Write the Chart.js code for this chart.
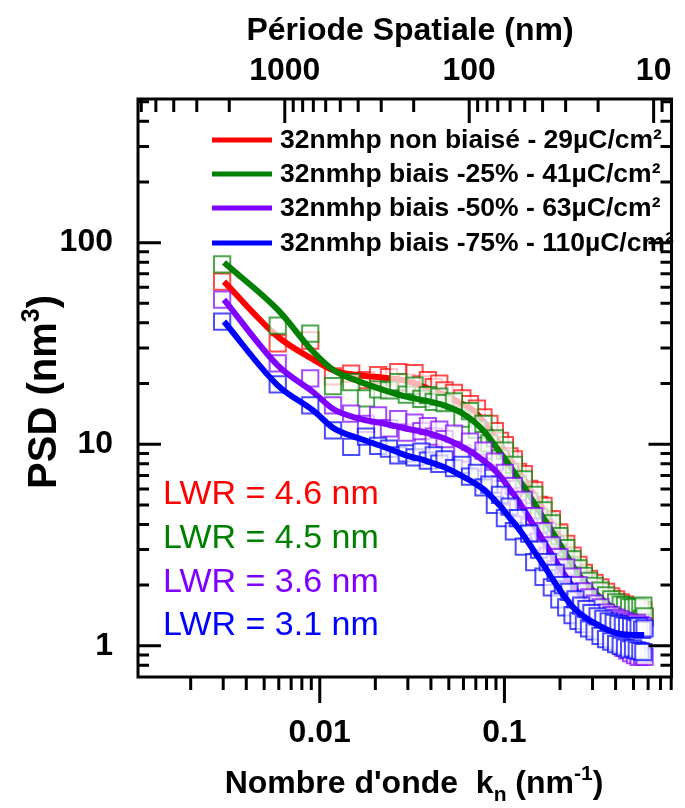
<!DOCTYPE html>
<html>
<head>
<meta charset="utf-8">
<title>PSD</title>
<script src="https://cdn.jsdelivr.net/npm/chart.js@4.4.1/dist/chart.umd.min.js"></script>
<style>
  html, body { margin: 0; padding: 0; background: #fff; }
  #wrap { width: 685px; height: 808px; }
</style>
</head>
<body>
<div id="wrap"><canvas id="psdChart" width="685" height="808"></canvas></div>
<script>
// wave numbers of the measured points (nm^-1)
const kValues = [
  0.00296, 0.00592, 0.00888, 0.0118, 0.0148, 0.0178, 0.0207, 0.0237, 0.0266, 0.0296,
  0.0326, 0.0355, 0.0385, 0.0414, 0.0444, 0.0474, 0.0533, 0.0592, 0.0651, 0.0710,
  0.0770, 0.0829, 0.0888, 0.0947, 0.1006, 0.1066, 0.1125, 0.1184, 0.1273, 0.1362,
  0.1450, 0.1539, 0.1628, 0.1717, 0.1806, 0.1894, 0.1983, 0.2072, 0.2161, 0.2250,
  0.2338, 0.2427, 0.2516, 0.2605, 0.2694, 0.2782, 0.2871, 0.2960, 0.3078, 0.3197,
  0.3315, 0.3434, 0.3552, 0.3670, 0.3789, 0.3907, 0.4026, 0.4144, 0.4262, 0.4381,
  0.4499, 0.4618, 0.4736, 0.4854, 0.4973, 0.5091, 0.5210, 0.5328, 0.5446, 0.5565,
  0.5654, 0.5742
];

// measured PSD (nm^3)
const psdNonBiaise = [
  64, 31.6, 32.7, 21.7, 22.4, 20.8, 22.0, 21.5, 22.8, 20.2,
  22.5, 19.8, 20.8, 19.2, 20.0, 18.5, 18.0, 16.9, 15.8, 15.0,
  13.6, 12.6, 11.6, 10.4, 9.9, 8.7, 8.4, 7.3, 7.1, 6.0,
  5.9, 5.0, 4.95, 4.2, 4.25, 3.6, 3.65, 3.1, 3.2, 2.7,
  2.8, 2.42, 2.52, 2.2, 2.3, 2.05, 2.15, 1.92, 2.05, 1.8,
  1.95, 1.7, 1.85, 1.62, 1.76, 1.56, 1.7, 1.5, 1.64, 1.46,
  1.6, 1.42, 1.56, 1.4, 1.54, 1.38, 1.52, 1.37, 1.5, 1.36,
  1.5, 1.38
];
const psdBiais25 = [
  78, 38.8, 35.4, 19.4, 20.3, 16.9, 18.7, 18.5, 20.3, 17.6,
  19.5, 16.8, 17.5, 16.2, 17.2, 16.0, 16.3, 13.4, 14.6, 11.8,
  12.6, 10.1, 10.7, 8.5, 9.3, 7.3, 7.9, 6.3, 6.7, 5.2,
  5.6, 4.35, 4.7, 3.7, 4.05, 3.2, 3.5, 2.8, 3.05, 2.5,
  2.68, 2.22, 2.42, 2.05, 2.22, 1.9, 2.1, 1.8, 1.98, 1.7,
  1.88, 1.6, 1.78, 1.52, 1.7, 1.47, 1.64, 1.42, 1.6, 1.4,
  1.58, 1.37, 1.55, 1.35, 1.55, 1.34, 1.56, 1.33, 1.55, 1.36,
  1.58, 1.4
];
const psdBiais50 = [
  52.2, 25.2, 21.2, 15.6, 14.2, 12.6, 13.9, 12.0, 13.3, 11.4,
  12.8, 11.6, 12.3, 10.9, 11.8, 10.6, 11.3, 9.0, 10.3, 8.1,
  9.3, 7.2, 8.2, 6.3, 7.2, 5.5, 6.2, 4.8, 5.3, 3.9,
  4.4, 3.3, 3.7, 2.8, 3.15, 2.4, 2.75, 2.1, 2.45, 1.9,
  2.2, 1.72, 2.0, 1.6, 1.86, 1.48, 1.74, 1.4, 1.62, 1.3,
  1.55, 1.22, 1.46, 1.15, 1.42, 1.08, 1.38, 1.03, 1.35, 0.98,
  1.32, 0.95, 1.3, 0.92, 1.28, 0.9, 1.3, 0.88, 1.27, 0.9,
  1.25, 0.88
];
const psdBiais75 = [
  40.6, 19.8, 15.6, 11.7, 9.7, 10.9, 9.8, 9.5, 8.8, 9.0,
  8.6, 9.2, 8.3, 8.8, 8.0, 8.4, 7.6, 7.9, 6.9, 7.2,
  6.1, 6.3, 5.0, 5.6, 4.3, 4.9, 3.7, 4.3, 3.1, 3.6,
  2.6, 3.0, 2.2, 2.6, 1.95, 2.3, 1.7, 2.0, 1.55, 1.85,
  1.42, 1.7, 1.33, 1.58, 1.28, 1.52, 1.22, 1.45, 1.18, 1.40,
  1.12, 1.36, 1.08, 1.32, 1.05, 1.30, 1.02, 1.28, 1.0, 1.26,
  0.98, 1.25, 0.96, 1.24, 0.97, 1.22, 0.95, 1.25, 0.94, 1.2,
  0.93, 1.22
];

// fitted curves, read at these wave numbers
const fitK = [
  0.00303, 0.00592, 0.0093, 0.0119, 0.0163, 0.0229, 0.0288, 0.038, 0.047, 0.058,
  0.068, 0.0775, 0.0865, 0.0965, 0.106, 0.117, 0.129, 0.143, 0.159, 0.176,
  0.195, 0.215, 0.2375, 0.263, 0.292, 0.325, 0.36, 0.40, 0.437, 0.50, 0.571
];
const fitNonBiaise = [
  64, 34.2, 26.2, 23.2, 22.0, 21.3, 20.7, 19.0, 17.6, 16.0,
  14.7, 12.9, 11.2, 9.8, 8.6, 7.5, 6.6, 5.7, 4.9, 4.2,
  3.6, 3.05, 2.6, 2.3, 2.05, 1.86, 1.72, 1.6, 1.52, 1.44, 1.38
];
const fitBiais25 = [
  79.6, 46.5, 28.5, 23.3, 20.5, 18.4, 17.3, 16.4, 15.6, 14.4,
  13.0, 11.6, 10.2, 8.9, 7.9, 6.9, 6.05, 5.2, 4.45, 3.85,
  3.31, 2.85, 2.45, 2.15, 1.94, 1.76, 1.62, 1.52, 1.46, 1.40, 1.36
];
const fitBiais50 = [
  52.2, 24.6, 18.0, 14.9, 13.4, 12.6, 12.0, 11.4, 10.7, 9.8,
  9.0, 8.25, 7.6, 6.8, 6.05, 5.35, 4.66, 4.0, 3.43, 2.95,
  2.52, 2.2, 1.94, 1.72, 1.54, 1.4, 1.3, 1.24, 1.2, 1.17, 1.15
];
const fitBiais75 = [
  40.6, 19.6, 14.6, 12.0, 10.7, 9.6, 8.85, 8.25, 7.7, 7.0,
  6.45, 5.95, 5.4, 4.85, 4.35, 3.9, 3.45, 3.0, 2.6, 2.25,
  1.95, 1.72, 1.54, 1.42, 1.33, 1.26, 1.2, 1.16, 1.14, 1.13, 1.13
];

const seriesLabels = [
  '32nmhp non biaisé - 29µC/cm²',
  '32nmhp biais -25% - 41µC/cm²',
  '32nmhp biais -50% - 63µC/cm²',
  '32nmhp biais -75% - 110µC/cm²'
];
const lwrLabels = ['LWR = 4.6 nm', 'LWR = 4.5 nm', 'LWR = 3.6 nm', 'LWR = 3.1 nm'];
const seriesColors = ['rgb(255,0,0)', 'rgb(0,128,0)', 'rgb(128,0,255)', 'rgb(0,0,255)'];

// axes
const kRange = [0.001037, 0.803];
const periodRange = [8.0, 6250];
const psdRange = [0.718, 516];
const kMajorTicks = [0.01, 0.1];
const periodMajorTicks = [1000, 100, 10];
const psdMajorTicks = [1, 10, 100];
const minorSteps = [2, 3, 4, 5, 6, 7, 8, 9];

const FONT = "'Liberation Sans', Arial, Helvetica, sans-serif";
const tickFont = { family: FONT, size: 32, weight: 'bold' };

function withAlpha(rgb, a) {
  return rgb.replace('rgb(', 'rgba(').replace(')', ',' + a + ')');
}

function minorValues(min, max) {
  const out = [];
  for (let e = Math.floor(Math.log10(min)); e <= Math.ceil(Math.log10(max)); e++) {
    minorSteps.forEach(m => {
      const v = m * Math.pow(10, e);
      if (v >= min && v <= max) out.push(v);
    });
  }
  return out;
}

function drawRich(ctx, parts, x, y, align) {
  let total = 0;
  parts.forEach(p => {
    ctx.font = 'bold ' + p.size + 'px ' + FONT;
    p.w = ctx.measureText(p.text).width;
    total += p.w;
  });
  let cx = align === 'center' ? x - total / 2 : x;
  ctx.textAlign = 'left';
  ctx.textBaseline = 'alphabetic';
  parts.forEach(p => {
    ctx.font = 'bold ' + p.size + 'px ' + FONT;
    ctx.fillText(p.text, cx, y + (p.dy || 0));
    cx += p.w;
  });
}

const framePlugin = {
  id: 'framePlugin',
  afterDraw(chart) {
    const { ctx, chartArea: a, scales } = chart;
    const xs = scales.x, xt = scales.xTop, ys = scales.y;
    ctx.save();
    ctx.strokeStyle = '#000';
    ctx.fillStyle = '#000';
    ctx.lineWidth = 3;
    ctx.strokeRect(a.left, a.top, a.right - a.left, a.bottom - a.top);

    ctx.beginPath();
    // bottom axis, ticks outside
    kMajorTicks.forEach(v => { const p = xs.getPixelForValue(v); ctx.moveTo(p, a.bottom); ctx.lineTo(p, a.bottom + 26); });
    minorValues(kRange[0], kRange[1]).forEach(v => { const p = xs.getPixelForValue(v); ctx.moveTo(p, a.bottom); ctx.lineTo(p, a.bottom + 13); });
    // top axis, ticks inside
    periodMajorTicks.forEach(v => { const p = xt.getPixelForValue(v); ctx.moveTo(p, a.top); ctx.lineTo(p, a.top + 24); });
    minorValues(periodRange[0], periodRange[1]).forEach(v => { const p = xt.getPixelForValue(v); ctx.moveTo(p, a.top); ctx.lineTo(p, a.top + 13); });
    // left and right axes, ticks inside
    psdMajorTicks.forEach(v => {
      const p = ys.getPixelForValue(v);
      ctx.moveTo(a.left, p); ctx.lineTo(a.left + 23, p);
      ctx.moveTo(a.right, p); ctx.lineTo(a.right - 23, p);
    });
    minorValues(psdRange[0], psdRange[1]).forEach(v => {
      const p = ys.getPixelForValue(v);
      ctx.moveTo(a.left, p); ctx.lineTo(a.left + 11, p);
      ctx.moveTo(a.right, p); ctx.lineTo(a.right - 11, p);
    });
    ctx.stroke();

    // legend
    const rows = [140, 174, 208, 243];
    ctx.lineWidth = 5;
    seriesLabels.forEach((label, i) => {
      ctx.strokeStyle = seriesColors[i];
      ctx.beginPath();
      ctx.moveTo(212, rows[i]);
      ctx.lineTo(272, rows[i]);
      ctx.stroke();
      ctx.fillStyle = '#000';
      ctx.font = 'bold 26.5px ' + FONT;
      ctx.textAlign = 'left';
      ctx.textBaseline = 'middle';
      ctx.fillText(label, 280, rows[i] + 1);
    });

    // LWR values
    const lwrRows = [495, 539, 583, 626];
    ctx.font = '34px ' + FONT;
    lwrLabels.forEach((label, i) => {
      ctx.fillStyle = seriesColors[i];
      ctx.fillText(label, 163, lwrRows[i]);
    });

    // axis titles
    ctx.fillStyle = '#000';
    drawRich(ctx, [{ text: 'Période Spatiale (nm)', size: 32 }], 410, 40, 'center');
    drawRich(ctx, [
      { text: "Nombre d'onde  k", size: 32 },
      { text: 'n', size: 21, dy: 8 },
      { text: ' (nm', size: 32 },
      { text: '-1', size: 21, dy: -13 },
      { text: ')', size: 32 }
    ], 414, 793, 'center');
    ctx.translate(42, 392);
    ctx.rotate(-Math.PI / 2);
    drawRich(ctx, [
      { text: 'PSD (nm', size: 40 },
      { text: '3', size: 25, dy: -17 },
      { text: ')', size: 40 }
    ], 0, 14, 'center');
    ctx.restore();
  }
};

const scatterSets = [psdNonBiaise, psdBiais25, psdBiais50, psdBiais75];
const fitSets = [fitNonBiaise, fitBiais25, fitBiais50, fitBiais75];
const datasets = [];
scatterSets.forEach((values, i) => {
  datasets.push({
    type: 'scatter',
    label: seriesLabels[i] + ' (mesure)',
    data: values.map((v, j) => ({ x: kValues[j], y: v })),
    pointStyle: 'rect',
    pointRadius: 11.5,
    pointBorderWidth: 2,
    borderColor: withAlpha(seriesColors[i], 0.7),
    backgroundColor: 'rgba(255,255,255,0.7)',
    order: 8 - 2 * i
  });
  datasets.push({
    type: 'line',
    label: seriesLabels[i],
    data: fitSets[i].map((v, j) => ({ x: fitK[j], y: v })),
    borderColor: seriesColors[i],
    borderWidth: 6,
    pointRadius: 0,
    cubicInterpolationMode: 'monotone',
    fill: false,
    order: 7 - 2 * i
  });
});

new Chart(document.getElementById('psdChart'), {
  type: 'scatter',
  data: { datasets: datasets },
  options: {
    responsive: false,
    animation: false,
    devicePixelRatio: 1,
    layout: { padding: { right: 2 } },
    plugins: { legend: { display: false }, tooltip: { enabled: false } },
    scales: {
      x: {
        type: 'logarithmic',
        position: 'bottom',
        min: kRange[0],
        max: kRange[1],
        grid: { display: false },
        border: { display: false },
        afterBuildTicks: s => { s.ticks = kMajorTicks.map(v => ({ value: v })); },
        afterFit: s => { s.height = 131; },
        ticks: { font: tickFont, color: '#000', padding: 29, maxRotation: 0, autoSkip: false, callback: v => String(v) }
      },
      xTop: {
        type: 'logarithmic',
        axis: 'x',
        position: 'top',
        reverse: true,
        min: periodRange[0],
        max: periodRange[1],
        grid: { display: false },
        border: { display: false },
        afterBuildTicks: s => { s.ticks = periodMajorTicks.map(v => ({ value: v })); },
        afterFit: s => { s.height = 99; },
        ticks: { font: tickFont, color: '#000', padding: 1, maxRotation: 0, autoSkip: false, callback: v => String(v) }
      },
      y: {
        type: 'logarithmic',
        position: 'left',
        min: psdRange[0],
        max: psdRange[1],
        grid: { display: false },
        border: { display: false },
        afterBuildTicks: s => { s.ticks = psdMajorTicks.map(v => ({ value: v })); },
        afterFit: s => { s.width = 138; },
        ticks: { font: tickFont, color: '#000', padding: 17, autoSkip: false, callback: v => String(v) }
      }
    }
  },
  plugins: [framePlugin]
});
</script>
</body>
</html>
